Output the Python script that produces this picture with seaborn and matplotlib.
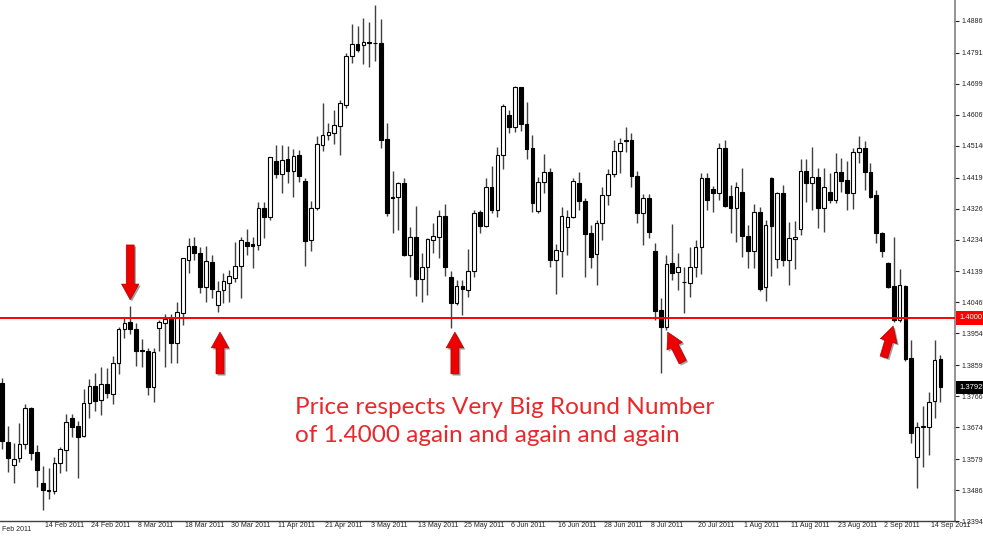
import matplotlib

matplotlib.use("Agg")
import matplotlib.pyplot as plt
import matplotlib.patheffects as pe
import matplotlib.transforms as mtransforms
import numpy as np
import pandas as pd
import seaborn as sns

# daily EUR/USD candles, 3 Feb 2011 .. 16 Sep 2011
opens = [
    1.3806, 1.3630, 1.3561, 1.3582, 1.3624, 1.3731, 1.3600, 1.3507, 1.3483, 1.3483,
    1.3567, 1.3606, 1.3701, 1.3677, 1.3648, 1.3746, 1.3797, 1.3755, 1.3803, 1.3773,
    1.3865, 1.3967, 1.3988, 1.3967, 1.3904, 1.3901, 1.3794, 1.3970, 1.3985, 1.4000,
    1.3925, 1.4015, 1.4173, 1.4215, 1.4194, 1.4092, 1.4167, 1.4039, 1.4083, 1.4104,
    1.4119, 1.4155, 1.4227, 1.4221, 1.4218, 1.4328, 1.4301, 1.4468, 1.4430, 1.4474,
    1.4439, 1.4486, 1.4409, 1.4233, 1.4328, 1.4516, 1.4546, 1.4552, 1.4573, 1.4636,
    1.4782, 1.4818, 1.4815, 1.4824, 1.4821, 1.4821, 1.4534, 1.4361, 1.4361, 1.4403,
    1.4188, 1.4242, 1.4116, 1.4152, 1.4233, 1.4242, 1.4304, 1.4122, 1.4045, 1.4095,
    1.4083, 1.4140, 1.4316, 1.4274, 1.4391, 1.4322, 1.4486, 1.4606, 1.4570, 1.4689,
    1.4579, 1.4507, 1.4319, 1.4406, 1.4436, 1.4173, 1.4200, 1.4271, 1.4301, 1.4403,
    1.4349, 1.4253, 1.4191, 1.4283, 1.4367, 1.4430, 1.4498, 1.4531, 1.4531, 1.4424,
    1.4313, 1.4358, 1.4200, 1.4024, 1.3973, 1.4164, 1.4137, 1.4107, 1.4104, 1.4152,
    1.4212, 1.4418, 1.4385, 1.4373, 1.4507, 1.4364, 1.4328, 1.4376, 1.4245, 1.4200,
    1.4316, 1.4092, 1.4418, 1.4176, 1.4373, 1.4173, 1.4236, 1.4265, 1.4439, 1.4403,
    1.4421, 1.4328, 1.4376, 1.4352, 1.4436, 1.4412, 1.4373, 1.4495, 1.4507, 1.4436,
    1.4367, 1.4253, 1.4164, 1.4095, 1.3994, 1.4095, 1.3880, 1.3585, 1.3674, 1.3674,
    1.3752, 1.3877,
]
highs = [
    1.3821, 1.3677, 1.3627, 1.3686, 1.3743, 1.3734, 1.3621, 1.3558, 1.3552, 1.3585,
    1.3615, 1.3713, 1.3713, 1.3692, 1.3788, 1.3818, 1.3836, 1.3854, 1.3851, 1.3886,
    1.3973, 1.4000, 1.4036, 1.3985, 1.3937, 1.3910, 1.3910, 1.3994, 1.4012, 1.4012,
    1.4048, 1.4179, 1.4239, 1.4242, 1.4212, 1.4215, 1.4188, 1.4110, 1.4134, 1.4143,
    1.4227, 1.4242, 1.4265, 1.4242, 1.4346, 1.4346, 1.4480, 1.4516, 1.4516, 1.4513,
    1.4504, 1.4501, 1.4418, 1.4349, 1.4543, 1.4642, 1.4582, 1.4621, 1.4651, 1.4791,
    1.4877, 1.4871, 1.4895, 1.4883, 1.4934, 1.4892, 1.4582, 1.4439, 1.4406, 1.4418,
    1.4271, 1.4334, 1.4194, 1.4239, 1.4283, 1.4322, 1.4340, 1.4140, 1.4113, 1.4113,
    1.4206, 1.4322, 1.4322, 1.4418, 1.4453, 1.4510, 1.4639, 1.4621, 1.4692, 1.4689,
    1.4645, 1.4546, 1.4421, 1.4489, 1.4448, 1.4221, 1.4331, 1.4322, 1.4418, 1.4436,
    1.4358, 1.4277, 1.4292, 1.4391, 1.4445, 1.4531, 1.4537, 1.4570, 1.4552, 1.4439,
    1.4370, 1.4370, 1.4224, 1.4059, 1.4188, 1.4280, 1.4194, 1.4152, 1.4212, 1.4233,
    1.4433, 1.4433, 1.4394, 1.4522, 1.4531, 1.4397, 1.4406, 1.4448, 1.4277, 1.4340,
    1.4331, 1.4292, 1.4421, 1.4376, 1.4397, 1.4286, 1.4289, 1.4474, 1.4474, 1.4510,
    1.4448, 1.4448, 1.4433, 1.4492, 1.4477, 1.4468, 1.4507, 1.4543, 1.4528, 1.4462,
    1.4382, 1.4256, 1.4167, 1.4242, 1.4146, 1.4097, 1.3934, 1.3689, 1.3737, 1.3779,
    1.3934, 1.3889,
]
lows = [
    1.3609, 1.3540, 1.3507, 1.3570, 1.3609, 1.3576, 1.3495, 1.3427, 1.3459, 1.3474,
    1.3537, 1.3543, 1.3645, 1.3522, 1.3645, 1.3701, 1.3722, 1.3710, 1.3761, 1.3743,
    1.3833, 1.3940, 1.3952, 1.3856, 1.3854, 1.3770, 1.3749, 1.3901, 1.3854, 1.3865,
    1.3865, 1.3979, 1.4134, 1.4173, 1.4074, 1.4048, 1.4059, 1.4018, 1.4045, 1.4048,
    1.4107, 1.4059, 1.4188, 1.4149, 1.4203, 1.4239, 1.4292, 1.4418, 1.4373, 1.4403,
    1.4361, 1.4406, 1.4155, 1.4200, 1.4322, 1.4498, 1.4531, 1.4519, 1.4486, 1.4627,
    1.4761, 1.4794, 1.4758, 1.4749, 1.4767, 1.4507, 1.4304, 1.4253, 1.4262, 1.4185,
    1.4122, 1.4065, 1.4048, 1.4068, 1.4194, 1.4179, 1.4125, 1.3970, 1.4039, 1.4009,
    1.4062, 1.4122, 1.4253, 1.4271, 1.4313, 1.4301, 1.4445, 1.4552, 1.4555, 1.4558,
    1.4474, 1.4316, 1.4313, 1.4373, 1.4152, 1.4071, 1.4122, 1.4188, 1.4298, 1.4322,
    1.4122, 1.4149, 1.4098, 1.4233, 1.4337, 1.4421, 1.4433, 1.4495, 1.4391, 1.4283,
    1.4218, 1.4239, 1.3994, 1.3836, 1.3964, 1.4113, 1.4083, 1.4015, 1.4062, 1.4122,
    1.4131, 1.4322, 1.4316, 1.4352, 1.4331, 1.4253, 1.4227, 1.4182, 1.4149, 1.4149,
    1.4080, 1.4051, 1.4125, 1.4149, 1.4155, 1.4098, 1.4146, 1.4248, 1.4346, 1.4322,
    1.4268, 1.4256, 1.4343, 1.4343, 1.4376, 1.4322, 1.4325, 1.4462, 1.4382, 1.4358,
    1.4224, 1.4182, 1.4090, 1.3988, 1.3988, 1.3871, 1.3627, 1.3492, 1.3555, 1.3591,
    1.3701, 1.3749,
]
closes = [
    1.3633, 1.3582, 1.3579, 1.3624, 1.3731, 1.3597, 1.3546, 1.3486, 1.3486, 1.3567,
    1.3609, 1.3689, 1.3674, 1.3645, 1.3746, 1.3797, 1.3752, 1.3803, 1.3776, 1.3865,
    1.3967, 1.3985, 1.3967, 1.3901, 1.3901, 1.3794, 1.3898, 1.3988, 1.3997, 1.3925,
    1.4018, 1.4179, 1.4215, 1.4194, 1.4092, 1.4170, 1.4086, 1.4080, 1.4110, 1.4125,
    1.4155, 1.4233, 1.4215, 1.4215, 1.4328, 1.4301, 1.4480, 1.4430, 1.4471, 1.4439,
    1.4483, 1.4424, 1.4230, 1.4328, 1.4519, 1.4546, 1.4555, 1.4576, 1.4642, 1.4782,
    1.4818, 1.4800, 1.4824, 1.4821, 1.4820, 1.4531, 1.4313, 1.4358, 1.4403, 1.4188,
    1.4242, 1.4116, 1.4152, 1.4236, 1.4244, 1.4304, 1.4152, 1.4045, 1.4095, 1.4086,
    1.4140, 1.4313, 1.4274, 1.4391, 1.4322, 1.4486, 1.4633, 1.4570, 1.4689, 1.4579,
    1.4504, 1.4343, 1.4406, 1.4436, 1.4173, 1.4203, 1.4304, 1.4301, 1.4409, 1.4349,
    1.4251, 1.4182, 1.4283, 1.4367, 1.4430, 1.4498, 1.4522, 1.4528, 1.4424, 1.4313,
    1.4358, 1.4256, 1.4021, 1.3973, 1.4161, 1.4134, 1.4152, 1.4106, 1.4152, 1.4212,
    1.4418, 1.4352, 1.4373, 1.4507, 1.4334, 1.4328, 1.4391, 1.4245, 1.4200, 1.4316,
    1.4086, 1.4277, 1.4274, 1.4373, 1.4173, 1.4239, 1.4242, 1.4439, 1.4403, 1.4421,
    1.4328, 1.4391, 1.4352, 1.4436, 1.4409, 1.4373, 1.4495, 1.4507, 1.4436, 1.4361,
    1.4253, 1.4200, 1.4092, 1.3994, 1.4098, 1.3877, 1.3656, 1.3674, 1.3677, 1.3749,
    1.3874, 1.3793,
]
first_day = "2011-02-03"
tick_days = [
    "2011-02-14", "2011-02-24", "2011-03-08", "2011-03-18", "2011-03-30",
    "2011-04-11", "2011-04-21", "2011-05-03", "2011-05-13", "2011-05-25",
    "2011-06-06", "2011-06-16", "2011-06-28", "2011-07-08", "2011-07-20",
    "2011-08-01", "2011-08-11", "2011-08-23", "2011-09-02", "2011-09-14",
]
price_ticks = [
    1.48865, 1.47915, 1.46990, 1.46065, 1.45140, 1.44190, 1.43265, 1.42340, 1.41390,
    1.40465, 1.39540, 1.38590, 1.37665, 1.36740, 1.35790, 1.34865, 1.33940,
]
price_labels = [f"{p:.5f}" for p in price_ticks]
round_level = 1.4000
last_price = 1.37925
note = "Price respects Very Big Round Number\nof 1.4000 again and again and again"

# (bar, price) tail -> head for the red arrows
arrows = [
    ((22, 1.4218), (22, 1.4054)),
    ((37.4, 1.3833), (37.4, 1.3958)),
    ((77.7, 1.3833), (77.7, 1.3958)),
    ((116.8, 1.3868), (114.2, 1.3958)),
    ((151.3, 1.3883), (152.9, 1.3976)),
]

sns.set_theme(style="white")
plt.rcParams["font.family"] = ["Liberation Sans", "DejaVu Sans"]
SCALE_FS = 5.0

df = pd.DataFrame(
    {"open": opens, "high": highs, "low": lows, "close": closes},
    index=pd.bdate_range(first_day, periods=len(opens)),
)
x = np.arange(len(df))
up = (df["close"] >= df["open"]).to_numpy()
body_lo = np.minimum(df["open"], df["close"]).to_numpy()
body_h = np.maximum((df["close"] - df["open"]).abs().to_numpy(), 0.00012)

fig = plt.figure(figsize=(9.83, 5.38), dpi=100)
ax = fig.add_axes([0, 17 / 538, 955 / 983, 521 / 538])

ax.vlines(x, df["low"], df["high"], color="#404040", lw=1.0, zorder=2)
ax.bar(x[up], body_h[up], bottom=body_lo[up], width=0.64, color="white",
       edgecolor="black", linewidth=0.8, zorder=3)
ax.bar(x[~up], body_h[~up], bottom=body_lo[~up], width=0.64, color="black",
       edgecolor="black", linewidth=0.8, zorder=3)
ax.axhline(round_level, color="#FF0000", lw=1.4, zorder=4)

ax.set_xlim(-0.34, 163.5)
ax.set_ylim(1.3394, 1.4949)

# axes: right price scale, dates along the bottom
sns.despine(ax=ax, left=True, top=True, right=False, bottom=False)
ax.spines["right"].set_color("#808080")
ax.spines["right"].set_linewidth(1.2)
ax.spines["bottom"].set_color("#404040")
ax.spines["bottom"].set_linewidth(1.0)

ax.yaxis.tick_right()
ax.set_yticks(price_ticks, price_labels)
ax.tick_params(axis="y", direction="out", length=3, width=0.8, pad=1.5,
               labelsize=SCALE_FS, colors="#222222")

tick_pos = df.index.get_indexer(pd.to_datetime(tick_days))
tick_lab = [f"{d.day} {d.strftime('%b %Y')}" for d in df.index[tick_pos]]
ax.set_xticks(tick_pos, tick_lab, ha="left")
ax.tick_params(axis="x", direction="out", length=5, width=0.8, pad=-4,
               labelsize=SCALE_FS, colors="#222222")
for lab in ax.get_xticklabels():
    lab.set_transform(lab.get_transform() + mtransforms.ScaledTranslation(2 / 100, 0, fig.dpi_scale_trans))
# first date label is cut by the left edge
ax.text(-1, 0, "2 Feb 2011", transform=mtransforms.blended_transform_factory(ax.transData, ax.transAxes)
        + mtransforms.ScaledTranslation(-0.5 / 100, -5 / 100, fig.dpi_scale_trans),
        ha="left", va="top", fontsize=SCALE_FS, color="#222222", clip_on=False)

# price boxes on the scale
box_tr = mtransforms.blended_transform_factory(ax.transAxes, ax.transData) + \
    mtransforms.ScaledTranslation(4 / 100, 0, fig.dpi_scale_trans)
ax.text(1.0, round_level, "1.4000", transform=box_tr, ha="left", va="center",
        fontsize=SCALE_FS + 0.5, color="white", clip_on=False, zorder=6,
        bbox=dict(boxstyle="square,pad=0.45", fc="#FF0000", ec="none"))
ax.text(1.0, last_price, "1.37925", transform=box_tr, ha="left", va="center",
        fontsize=SCALE_FS + 0.5, color="white", clip_on=False, zorder=6,
        bbox=dict(boxstyle="square,pad=0.45", fc="black", ec="none"))

for tail, head in arrows:
    ax.annotate("", xy=head, xytext=tail, zorder=7,
                arrowprops=dict(arrowstyle="simple,head_length=0.95,head_width=1.05,tail_width=0.48",
                                mutation_scale=12, fc="#EE0000", ec="#A00000", lw=0.4,
                                shrinkA=0, shrinkB=0,
                                path_effects=[pe.withSimplePatchShadow(offset=(1.2, -1.2),
                                                                       shadow_rgbFace="#444444", alpha=0.5)]))

fig.text(295 / 983, 1 - 397 / 538, note, color="#E8282B", fontsize=17.6,
         family=["Lato", "DejaVu Sans"], ha="left", va="top", linespacing=1.4)

fig.savefig("out.png", dpi=100)
plt.close(fig)
